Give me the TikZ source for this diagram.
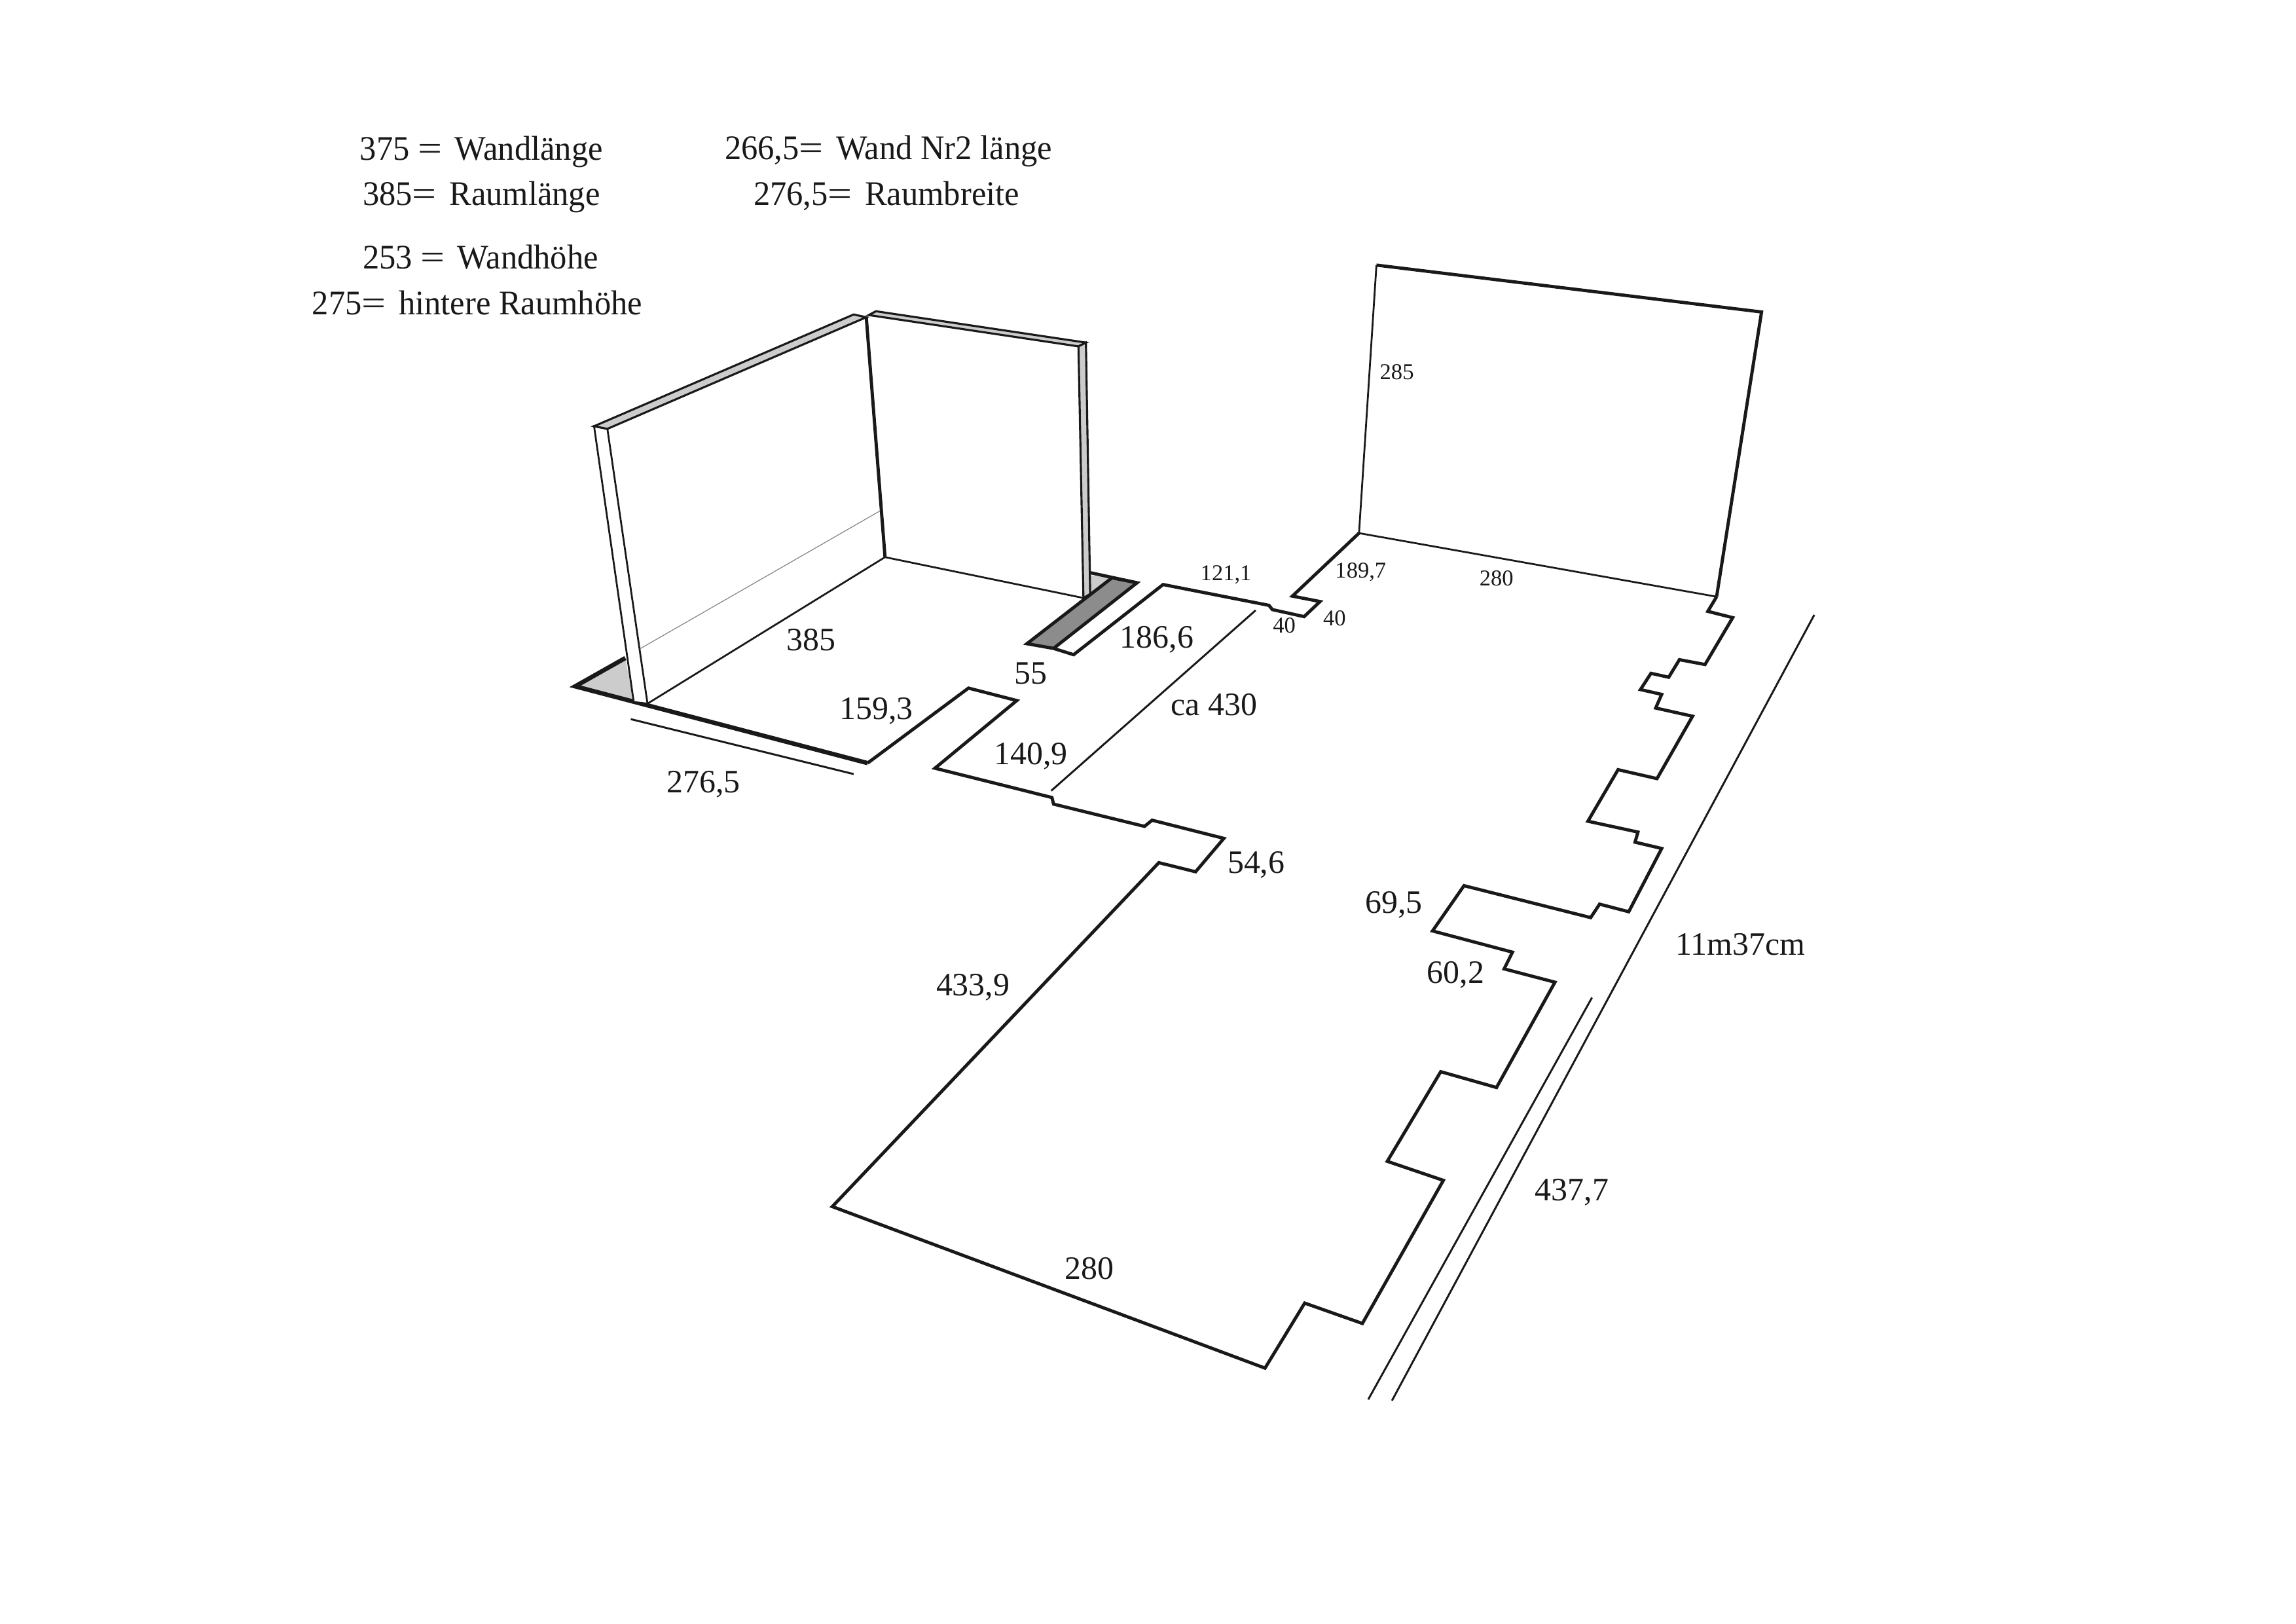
\documentclass[tikz,border=0pt]{standalone}
\usepackage{fontspec}
\setmainfont{Liberation Serif}
\newfontfamily\legendfont[FakeStretch=0.96]{Liberation Serif}
\definecolor{ink}{gray}{0.1}
\definecolor{lightfloor}{gray}{0.8}
\definecolor{darkfloor}{gray}{0.55}
\newcommand{\wideeq}{\scalebox{1.3}[1]{=}\hspace{1.7pt}}
\tikzset{
  lbl/.style={anchor=base west,inner sep=0pt,text=ink},
  toplbl/.style={lbl,font=\legendfont\fontsize{13.4}{15}\selectfont},
  biglbl/.style={lbl,font=\fontsize{12.7}{15}\selectfont},
  smalllbl/.style={lbl,font=\fontsize{8.8}{10}\selectfont},
  thin wall/.style={line width=0.7pt,line join=miter,draw=ink},
  wall cap/.style={line width=0.8pt,line join=miter,draw=ink,fill=lightfloor},
  plan/.style={line width=1.25pt,line join=miter,draw=ink},
  heavy/.style={line width=1.7pt,line join=miter,draw=ink},
  dim/.style={line width=0.75pt,draw=ink}
}
\begin{document}
\begin{tikzpicture}[x=0.02cm,y=-0.02cm]
  \useasboundingbox (0,0) rectangle (1568,1108.8);
  % legend
  \node[toplbl] (wandlaenge) at (245.5,109.5) {375 \wideeq{} Wandlänge};
  \node[toplbl] (raumlaenge) at (247.4,140.0) {385\wideeq{} Raumlänge};
  \node[toplbl] (wandzwei)   at (494.6,108.8) {266,5\wideeq{} Wand Nr2 länge};
  \node[toplbl] (raumbreite) at (514.3,140.0) {276,5\wideeq{} Raumbreite};
  \node[toplbl] (wandhoehe)  at (247.4,183.5) {253 \wideeq{} Wandhöhe};
  \node[toplbl] (raumhoehe)  at (212.9,214.8) {275\wideeq{} hintere Raumhöhe};
  % floor pieces under the walls
  \fill[lightfloor] (392.8,468.6) -- (427,449.3) -- (432.8,479.3) -- cycle;
  \fill[lightfloor] (744.6,392.8) -- (759.4,394.5) -- (740,408.2) -- cycle;
  \filldraw[fill=darkfloor,plan] (701.3,439.5) -- (719.5,442.7) -- (776.5,397.9) -- (759.4,394.5) -- cycle;
  \draw[plan] (744.6,391) -- (776.5,397.9);
  \draw[plan] (719.5,442.7) -- (733.2,447) -- (794.3,399.1) -- (866.6,413.3) -- (868.9,416.2) -- (890.6,421)
      -- (901.5,410.7) -- (882.6,407) -- (928.1,364);
  \draw[heavy] (427,449.3) -- (392.8,468.6) -- (592.5,521);
  % left wall
  \filldraw[fill=white,thin wall] (405.7,291) -- (414.8,292.8) -- (442.2,480.4) -- (432.8,479.3) -- cycle;
  \draw[thin wall] (442.2,480.4) -- (604.4,380.4) -- (740,408.3);
  \draw[line width=0.3pt,gray] (437,443) -- (601,348.8);
  \filldraw[wall cap] (405.7,291) -- (583,214.7) -- (591.6,216.6) -- (414.8,292.8) -- cycle;
  \draw[plan] (591.6,216.6) -- (604.4,380.4);
  % right wall
  \filldraw[wall cap] (593.3,215.1) -- (598.2,212.5) -- (741.6,233.9) -- (736.5,236.5) -- cycle;
  \filldraw[wall cap] (736.5,236.5) -- (741.6,233.9) -- (744.5,405.5) -- (739.9,408.3) -- cycle;
  % outline of the flat
  \draw[plan] (592.5,521) -- (661.4,469.8) -- (694.4,478.3) -- (638.5,524.5) -- (718.4,544.5) -- (719.5,549)
      -- (781.6,564.2) -- (786.8,560) -- (835.8,572.4) -- (816.5,595.2) -- (791.4,589) -- (568.4,823.8)
      -- (863.9,934.1) -- (891,889.7) -- (930.4,903.6) -- (985.7,805.9) -- (947.4,792.9) -- (983.9,731.7)
      -- (1022,742.5) -- (1061.9,670.6) -- (1027.2,661.5) -- (1032.9,650.1) -- (978.3,635.6) -- (999.8,604.7)
      -- (1086.3,626.5) -- (1092.4,617.3) -- (1112.3,622.5) -- (1134.8,579.3) -- (1116.6,575) -- (1118.6,568.1)
      -- (1084.4,560.7) -- (1105,525.5) -- (1131.6,531.6) -- (1155.9,489) -- (1130.7,483.4) -- (1134.8,474.1)
      -- (1120.3,470.8) -- (1127.5,459.7) -- (1139.6,462.4) -- (1146.9,450.4) -- (1164.4,453.7) -- (1183.3,421.7)
      -- (1166.3,417.4) -- (1172.3,407.4);
  % far wall
  \draw[thin wall] (928.1,364) -- (940,181);
  \draw[thin wall] (928.1,364) -- (1172.3,407.4);
  \draw[plan] (940,181) -- (1203,213) -- (1172.3,407.4);
  % dimension lines
  \draw[dim] (430.8,491) -- (583,528.5);
  \draw[dim] (857.5,416.7) -- (717.9,539.9);
  \draw[dim] (1239,419.8) -- (950.6,956.3);
  \draw[dim] (1087.2,681.1) -- (934.4,955.5);
  % measures
  \node[biglbl] (raumlang)  at (537,444) {385};
  \node[biglbl] (raumbreit) at (455,541) {276,5};
  \node[biglbl] (masseins)  at (573,491) {159,3};
  \node[biglbl] (masszwei)  at (692.3,467.2) {55};
  \node[biglbl] (massdrei)  at (764.5,442.4) {186,6};
  \node[biglbl] (massvier)  at (678.6,522) {140,9};
  \node[biglbl] (ganglang)  at (799.4,488.6) {ca 430};
  \node[biglbl] (massfuenf) at (838,596.4) {54,6};
  \node[biglbl] (masssechs) at (639,680) {433,9};
  \node[biglbl] (unten)     at (727,873.3) {280};
  \node[biglbl] (masssieben) at (932,623.4) {69,5};
  \node[biglbl] (massacht)  at (974.3,671.3) {60,2};
  \node[biglbl] (gesamt)    at (1144,651.9) {11m37cm};
  \node[biglbl] (rechts)    at (1048,819.6) {437,7};
  \node[smalllbl] (flureins) at (819.5,396.2) {121,1};
  \node[smalllbl] (flurzwei) at (911.5,394.5) {189,7};
  \node[smalllbl] (nischea)  at (869,432.1) {40};
  \node[smalllbl] (nischeb)  at (903.3,427) {40};
  \node[smalllbl] (hinten)   at (1010,400) {280};
  \node[smalllbl] (hoehe)    at (942,259) {285};
\end{tikzpicture}
\end{document}
